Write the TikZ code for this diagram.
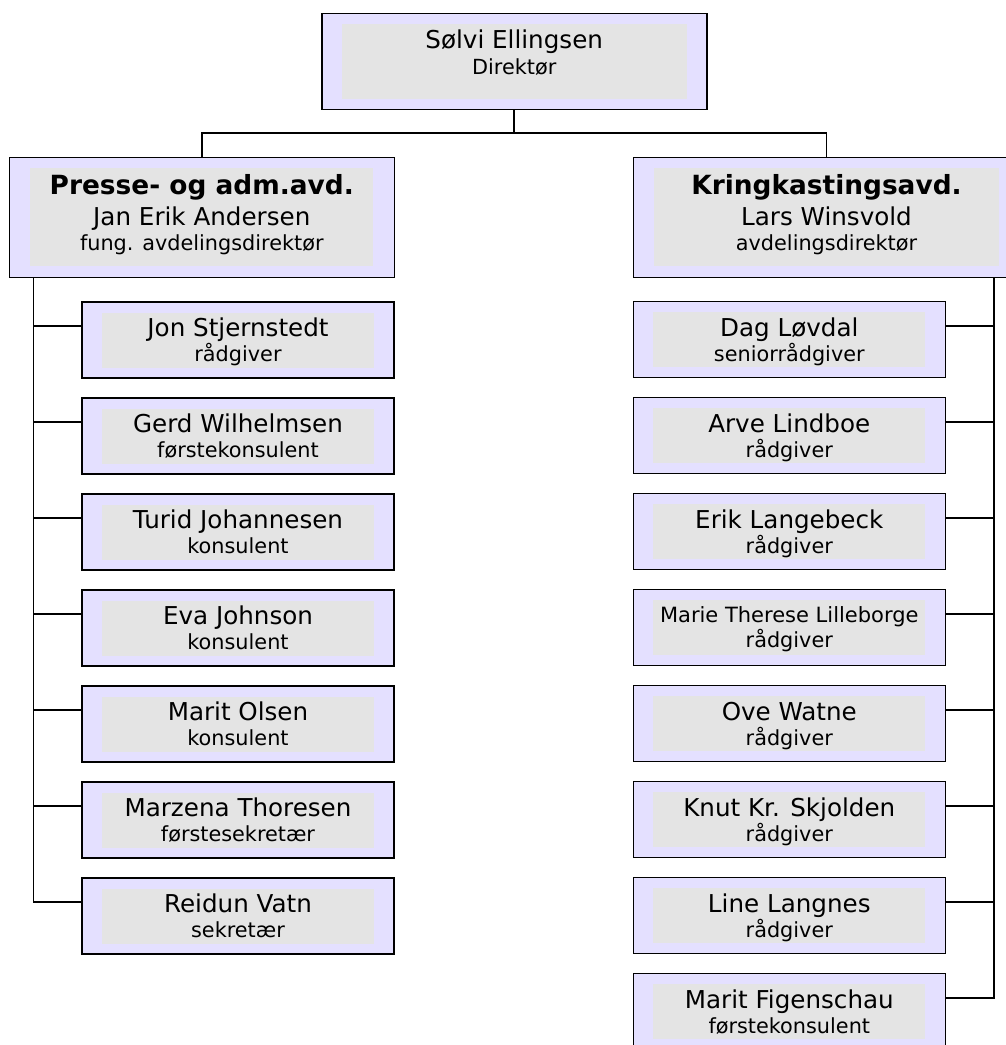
\documentclass[tikz,border=0pt]{standalone}
\usepackage{fontspec}
\setmainfont{DejaVu Sans}
\usetikzlibrary{calc}
\definecolor{lav}{RGB}{228,224,255}
\definecolor{innergray}{RGB}{228,228,228}
\tikzset{
  box/.style={draw=black, fill=lav, line width=1.6pt, rectangle, inner sep=0pt, outer sep=0pt, anchor=north west},
  subbox/.style={box, minimum width=312pt, minimum height=76pt},
  headbox/.style={box, minimum width=385pt, minimum height=120pt},
  topbox/.style={box, minimum width=385pt, minimum height=96pt},
  nm/.style={anchor=base, inner sep=0pt, font=\fontsize{24.6}{28}\selectfont},
  nmsmall/.style={anchor=base, inner sep=0pt, font=\fontsize{21}{24}\selectfont},
  tt/.style={anchor=base, inner sep=0pt, font=\fontsize{20.8}{24}\selectfont},
  hd/.style={anchor=base, inner sep=0pt, font=\bfseries\fontsize{26.4}{30}\selectfont},
  conn/.style={line width=1.6pt, draw=black},
}
\newcommand\staffbox[5]{%
  \node[subbox] (#1) at (#2,#3) {};
  \fill[innergray] ([shift={(20pt,-11pt)}]#1.north west) rectangle ([shift={(-20pt,10pt)}]#1.south east);
  \node[nm] (#1n) at ([yshift=-35pt]#1.north) {#4};
  \node[tt] (#1t) at ([yshift=-60pt]#1.north) {#5};
}
\begin{document}
\begin{tikzpicture}[x=1pt,y=-1pt]
\clip (0,0) rectangle (1006,1045);
\fill[white] (0,0) rectangle (1006,1045);

% top box
\node[topbox] (top) at (321.7,13.3) {};
\fill[innergray] ([shift={(20pt,-11pt)}]top.north west) rectangle ([shift={(-20pt,10pt)}]top.south east);
\node[nm] (topn) at ([yshift=-35pt]top.north) {Sølvi Ellingsen};
\node[tt] (topt) at ([yshift=-61pt]top.north) {Direktør};

% department boxes
\node[headbox] (presse) at (9.3,157.3) {};
\fill[innergray] ([shift={(21pt,-11pt)}]presse.north west) rectangle ([shift={(-21pt,11pt)}]presse.south east);
\node[hd] (presseh) at ([yshift=-37pt]presse.north) {Presse- og adm.avd.};
\node[nm] (pressen) at ([yshift=-68pt]presse.north) {Jan Erik Andersen};
\node[tt] (presset) at ([yshift=-93pt]presse.north) {fung. avdelingsdirektør};

\node[headbox, minimum width=386.4pt] (kring) at (633.3,157.3) {};
\fill[innergray] ([shift={(21pt,-11pt)}]kring.north west) rectangle ([shift={(-21pt,11pt)}]kring.south east);
\node[hd] (kringh) at ([yshift=-37pt]kring.north) {Kringkastingsavd.};
\node[nm] (kringn) at ([yshift=-68pt]kring.north) {Lars Winsvold};
\node[tt] (kringt) at ([yshift=-93pt]kring.north) {avdelingsdirektør};

% top connectors
\draw[conn] (top.south) -- ++(0,-23.4pt) coordinate (hub);
\draw[conn] (presse.north) |- (hub) -| (kring.north);

% left column
\staffbox{l1}{82}{301.7}{Jon Stjernstedt}{rådgiver}
\staffbox{l2}{82}{397.7}{Gerd Wilhelmsen}{førstekonsulent}
\staffbox{l3}{82}{493.7}{Turid Johannesen}{konsulent}
\staffbox{l4}{82}{589.7}{Eva Johnson}{konsulent}
\staffbox{l5}{82}{685.7}{Marit Olsen}{konsulent}
\staffbox{l6}{82}{781.7}{Marzena Thoresen}{førstesekretær}
\staffbox{l7}{82}{877.7}{Reidun Vatn}{sekretær}

% right column
\staffbox{r1}{633.3}{301.3}{Dag Løvdal}{seniorrådgiver}
\staffbox{r2}{633.3}{397.3}{Arve Lindboe}{rådgiver}
\staffbox{r3}{633.3}{493.3}{Erik Langebeck}{rådgiver}
\node[subbox] (r4) at (633.3,589.3) {};
\fill[innergray] ([shift={(20pt,-11pt)}]r4.north west) rectangle ([shift={(-20pt,10pt)}]r4.south east);
\node[nmsmall] (r4n) at ([yshift=-33pt]r4.north) {Marie Therese Lilleborge};
\node[tt] (r4t) at ([yshift=-58pt]r4.north) {rådgiver};
\staffbox{r5}{633.3}{685.3}{Ove Watne}{rådgiver}
\staffbox{r6}{633.3}{781.3}{Knut Kr. Skjolden}{rådgiver}
\staffbox{r7}{633.3}{877.3}{Line Langnes}{rådgiver}
\staffbox{r8}{633.3}{973.3}{Marit Figenschau}{førstekonsulent}

% left spine
\coordinate (lsp) at ($(presse.south west)+(24pt,0)$);
\foreach \b in {l1,l2,l3,l4,l5,l6,l7}
  \draw[conn] (lsp) |- ([yshift=-24.5pt]\b.north west);

% right spine
\coordinate (rsp) at ($(kring.south east)+(-25.7pt,0)$);
\foreach \b in {r1,r2,r3,r4,r5,r6,r7,r8}
  \draw[conn] (rsp) |- ([yshift=-24.5pt]\b.north east);
\end{tikzpicture}
\end{document}
